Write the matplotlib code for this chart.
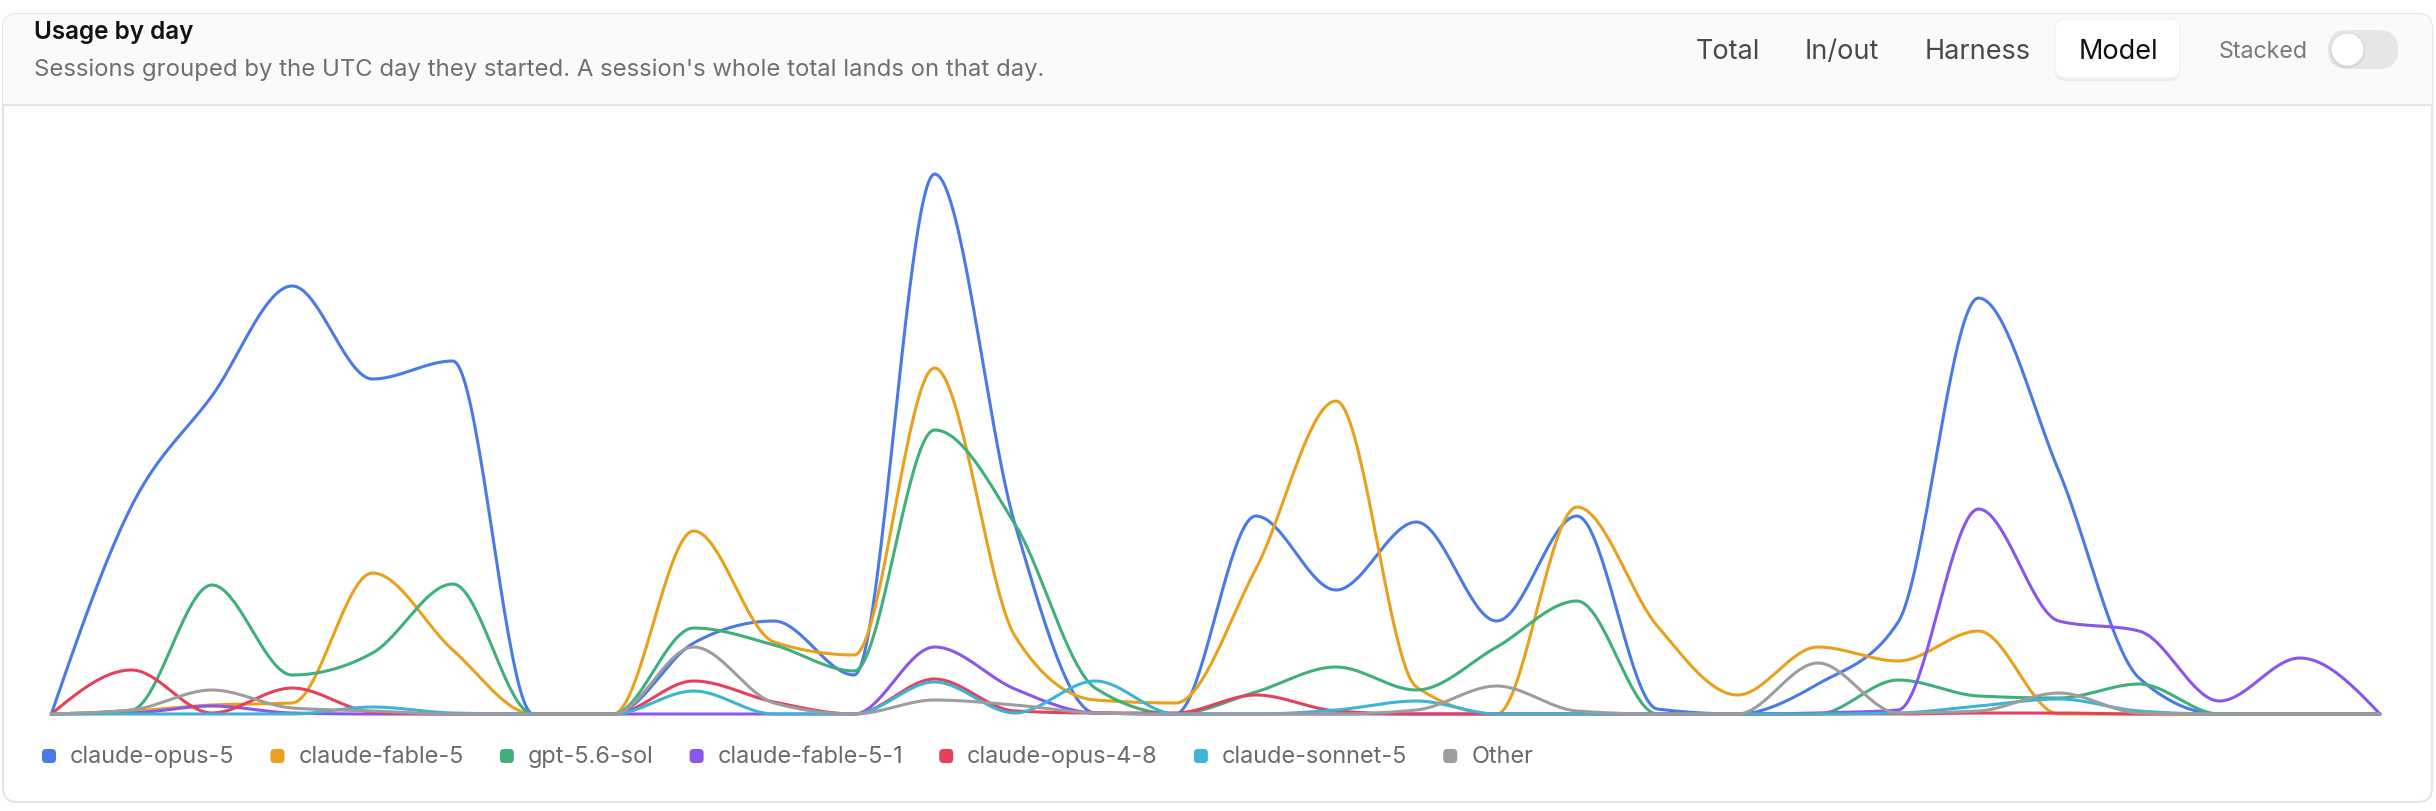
import numpy as np
import matplotlib
matplotlib.use("Agg")
import matplotlib.pyplot as plt
from matplotlib.patches import FancyBboxPatch, Rectangle, Circle

plt.rcParams['font.family'] = ['Inter', 'DejaVu Sans']

# --- DATA (daily totals per model, 30 UTC days) ---
days = np.arange(30)
models = ['claude-opus-5', 'claude-fable-5', 'gpt-5.6-sol', 'claude-fable-5-1',
          'claude-opus-4-8', 'claude-sonnet-5', 'Other']
colors = ['#4a7ae6', '#e9a11b', '#3fb07c', '#8a56ee', '#e5405c', '#3db4d6', '#9d9d9f']

opus5 = [0, 208, 318, 428, 335, 353, 0, 0, 71, 93, 39, 540, 190, 1, 0,
         198, 124, 192, 93, 198, 5, 0, 30, 92, 416, 243, 36, 0, 0, 0]
fable5 = [0, 3, 9, 11, 141, 64, 0, 0, 183, 72, 59, 346, 78, 14, 11,
          145, 313, 27, 0, 207, 88, 19, 67, 53, 83, 0, 0, 0, 0, 0]
gpt56 = [0, 4, 129, 39, 61, 130, 0, 0, 86, 69, 43, 284, 190, 26, 0,
         22, 47, 24, 67, 113, 0, 0, 0, 34, 18, 16, 30, 0, 0, 0]
fable51 = [0, 1, 8, 1, 0, 0, 0, 0, 0, 0, 0, 67, 25, 1, 0,
           0, 0, 0, 0, 0, 0, 0, 1, 4, 205, 93, 83, 13, 56, 0]
opus48 = [0, 44, 1, 26, 2, 0, 0, 0, 33, 12, 0, 35, 3, 1, 1,
          19, 3, 0, 0, 0, 0, 0, 0, 0, 1, 1, 0, 0, 0, 0]
sonnet5 = [0, 0, 0, 0, 7, 1, 0, 0, 23, 0, 0, 32, 1, 33, 0,
           0, 4, 13, 0, 0, 0, 0, 0, 1, 8, 15, 3, 0, 0, 0]
other = [0, 4, 24, 6, 3, 0, 0, 0, 67, 11, 0, 14, 9, 1, 0,
         0, 0, 4, 28, 3, 0, 0, 51, 1, 3, 21, 1, 0, 0, 0]
series = [opus5, fable5, gpt56, fable51, opus48, sonnet5, other]

tabs = ['Total', 'In/out', 'Harness', 'Model']


def monotone_x(x, y, n=40):
    # same curve as d3.curveMonotoneX
    x = np.asarray(x, float)
    y = np.asarray(y, float)
    h = np.diff(x)
    s = np.diff(y) / h
    t = np.zeros(len(x))
    for i in range(1, len(x) - 1):
        h0, h1, s0, s1 = h[i - 1], h[i], s[i - 1], s[i]
        p = (s0 * h1 + s1 * h0) / (h0 + h1)
        t[i] = (np.sign(s0) + np.sign(s1)) * min(abs(s0), abs(s1), 0.5 * abs(p))
    t[0] = (3 * s[0] - t[1]) / 2
    t[-1] = (3 * s[-1] - t[-2]) / 2
    xs, ys = [], []
    u = np.linspace(0, 1, n)
    for i in range(len(x) - 1):
        h00 = 2 * u**3 - 3 * u**2 + 1
        h10 = u**3 - 2 * u**2 + u
        h01 = -2 * u**3 + 3 * u**2
        h11 = u**3 - u**2
        xs.append(x[i] + u * h[i])
        ys.append(h00 * y[i] + h10 * h[i] * t[i] + h01 * y[i + 1] + h11 * h[i] * t[i + 1])
    return np.concatenate(xs), np.concatenate(ys)


W, H = 2436, 812
fig = plt.figure(figsize=(W / 100, H / 100), dpi=100)
fig.patch.set_facecolor('white')

bg = fig.add_axes([0, 0, 1, 1])
bg.set_xlim(0, W)
bg.set_ylim(H, 0)
bg.axis('off')

# card
card = FancyBboxPatch((3, 15), 2429, 788, boxstyle="round,pad=0,rounding_size=14",
                      facecolor='white', edgecolor='#e4e4e4', linewidth=1.5)
bg.add_patch(card)
band = Rectangle((0, 0), W, 106, facecolor='#fafafa', edgecolor='none')
bg.add_patch(band)
band.set_clip_path(card)
bg.plot([4, 2431], [106, 106], color='#e6e6e6', lw=1.6)

# header text
bg.text(34, 33, 'Usage by day', fontsize=17.5, fontweight='semibold', color='#111111',
        va='center', ha='left')
bg.text(34, 70, "Sessions grouped by the UTC day they started. A session's whole total lands on that day.",
        fontsize=17.2, color='#6f6f6f', va='center', ha='left')

# tabs
tab_x = [1728, 1842, 1978, 2118]
shadow = FancyBboxPatch((2055, 23), 125, 59, boxstyle="round,pad=0,rounding_size=10",
                        facecolor='#000000', alpha=0.05, edgecolor='none')
bg.add_patch(shadow)
pill = FancyBboxPatch((2055, 20), 125, 59, boxstyle="round,pad=0,rounding_size=10",
                      facecolor='white', edgecolor='#efefef', linewidth=0.8)
bg.add_patch(pill)
for lbl, xc in zip(tabs, tab_x):
    bg.text(xc, 52, lbl, fontsize=19.5, color='#111111' if lbl == 'Model' else '#4a4a4a',
            va='center', ha='center')
bg.text(2263, 52, 'Stacked', fontsize=16.7, color='#7a7a7a', va='center', ha='center')

# toggle
toggle = FancyBboxPatch((2328, 31), 70, 39, boxstyle="round,pad=0,rounding_size=19.5",
                        facecolor='#e6e6e6', edgecolor='none')
bg.add_patch(toggle)
bg.add_patch(Circle((2347.5, 51.5), 17.5, facecolor='#000000', alpha=0.08, edgecolor='none'))
bg.add_patch(Circle((2347.5, 50.5), 16.5, facecolor='white', edgecolor='#dcdcdc', linewidth=0.8))

# chart
ax = fig.add_axes([51.3 / W, (H - 715) / H, (2380 - 51.3) / W, 600 / H])
ax.set_xlim(0, 29)
ax.set_ylim(0, 600)
ax.axis('off')
for vals, col in zip(series, colors):
    cx, cy = monotone_x(days, vals)
    ax.plot(cx, cy, color=col, lw=2.2, clip_on=False, solid_capstyle='round')

# legend
fig.canvas.draw()
renderer = fig.canvas.get_renderer()
x = 42
for name, col in zip(models, colors):
    bg.add_patch(FancyBboxPatch((x, 750), 14, 14, boxstyle="round,pad=0,rounding_size=4",
                                facecolor=col, edgecolor='none'))
    t = bg.text(x + 28, 757, name, fontsize=16.9, color='#6a6a6a', va='center', ha='left')
    bb = t.get_window_extent(renderer)
    x = x + 28 + bb.width + 36

fig.savefig('out.png', dpi=100, facecolor='white')
